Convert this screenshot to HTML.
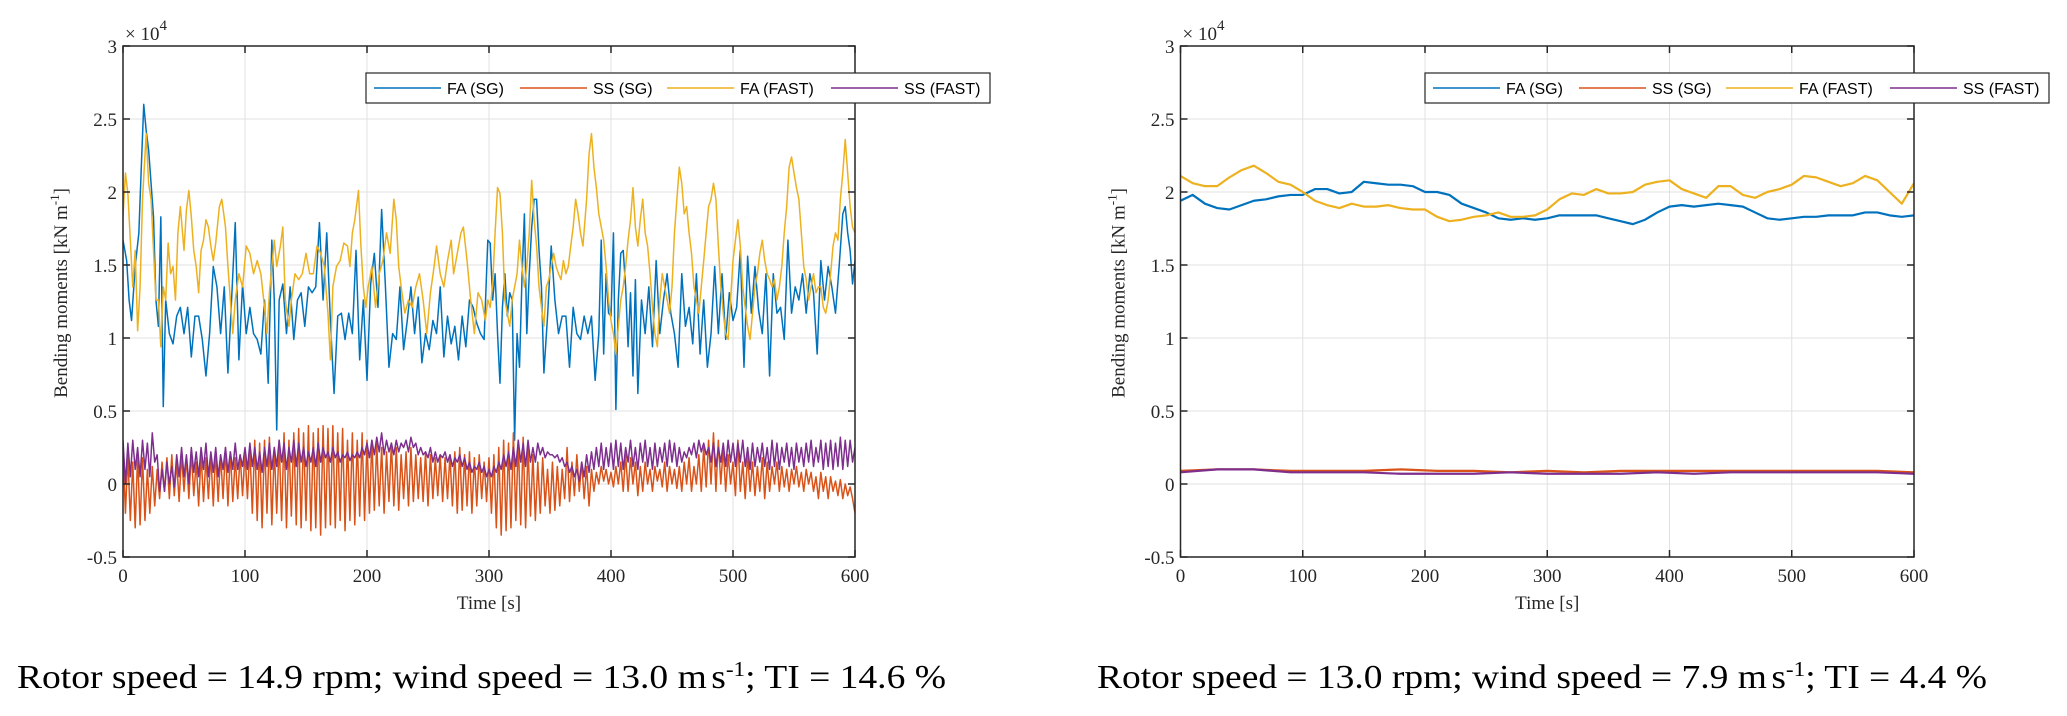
<!DOCTYPE html>
<html><head><meta charset="utf-8"><style>
html,body{margin:0;padding:0;background:#fff;}
svg{display:block;}
.tk{font-family:"Liberation Serif",serif;font-size:19px;fill:#262626;}
.lg{font-family:"Liberation Sans",sans-serif;font-size:16px;fill:#000;}
.cap{font-family:"Liberation Serif",serif;font-size:34px;fill:#000;}
</style></head><body>
<svg id="fig" width="2067" height="716" viewBox="0 0 2067 716" xmlns="http://www.w3.org/2000/svg">
<defs>
<clipPath id="clipL"><rect x="123" y="46" width="732" height="511"/></clipPath>
<clipPath id="clipR"><rect x="1180.5" y="46" width="733.5" height="511"/></clipPath>
</defs>
<text class="cap" x="17" y="688" textLength="929" lengthAdjust="spacingAndGlyphs">Rotor speed = 14.9 rpm; wind speed = 13.0 m<tspan dx="4">s</tspan><tspan dy="-12" font-size="21">-1</tspan><tspan dy="12">; TI = 14.6 %</tspan></text>
<text class="cap" x="1097" y="688" textLength="890" lengthAdjust="spacingAndGlyphs">Rotor speed = 13.0 rpm; wind speed = 7.9 m<tspan dx="4">s</tspan><tspan dy="-12" font-size="21">-1</tspan><tspan dy="12">; TI = 4.4 %</tspan></text>
</svg>
<script>
const xTicks=[0,100,200,300,400,500,600];
const yTicks=[-0.5,0,0.5,1,1.5,2,2.5,3];
const yTickLabels=["-0.5","0","0.5","1","1.5","2","2.5","3"];
const seriesNames=["FA (SG)","SS (SG)","FA (FAST)","SS (FAST)"];
const seriesColors=["#0072BD","#D95319","#EDB120","#7E2F8E"];

const leftFaSg=[[0,1.67],[3,1.53],[5,1.26],[7,1.12],[10,1.49],[13,1.72],[15,2.17],[17,2.6],[19,2.42],[21,2.29],[23,2.06],[25,1.83],[27,1.26],[29,1.08],[31,1.83],[33,0.53],[35,1.26],[38,1.03],[41,0.96],[44,1.15],[47,1.21],[50,1.03],[53,1.21],[56,0.87],[59,1.15],[62,1.15],[65,0.99],[68,0.74],[71,1.03],[74,1.49],[77,1.35],[80,1.03],[83,1.35],[86,0.76],[89,1.26],[92,1.79],[95,0.85],[98,1.37],[101,1.03],[104,1.21],[107,1.03],[110,0.99],[113,0.89],[116,1.26],[119,0.69],[122,1.67],[124,1.26],[126,0.37],[128,1.26],[131,1.37],[134,1.03],[137,1.35],[140,0.99],[143,1.26],[146,1.31],[149,1.08],[152,1.35],[155,1.31],[158,1.35],[161,1.79],[164,1.26],[167,1.72],[170,1.12],[173,0.62],[176,1.15],[179,1.17],[182,0.99],[185,1.17],[188,1.03],[191,1.6],[194,0.85],[197,1.26],[200,0.71],[203,1.37],[206,1.58],[209,1.21],[212,1.88],[215,1.37],[218,0.8],[221,1.03],[224,0.99],[227,1.35],[230,0.92],[233,1.12],[236,1.35],[239,1.03],[242,1.28],[245,0.83],[248,1.03],[251,0.92],[254,1.12],[257,1.03],[260,1.35],[263,0.87],[266,1.15],[269,0.96],[272,1.08],[275,0.85],[278,1.15],[281,0.94],[284,1.26],[287,1.21],[290,1.1],[293,1.03],[296,0.99],[299,1.67],[301,1.65],[303,1.26],[305,1.44],[307,1.03],[309,0.69],[311,1.21],[313,1.44],[315,1.15],[317,1.31],[319,1.26],[321,0.3],[323,1.03],[325,0.8],[327,1.4],[329,1.85],[331,1.03],[333,1.44],[335,1.76],[337,1.95],[339,1.95],[341,1.6],[343,1.35],[345,0.76],[348,1.15],[351,1.63],[354,1.26],[357,1.03],[360,1.15],[363,1.15],[366,0.8],[369,1.21],[372,1.03],[375,0.99],[378,1.15],[381,1.03],[384,1.15],[387,0.71],[390,1.03],[392,1.67],[394,0.89],[396,1.44],[398,1.17],[400,1.15],[402,1.72],[404,0.51],[406,1.26],[408,1.58],[410,1.6],[412,1.35],[414,0.94],[416,1.31],[418,0.74],[420,1.4],[422,0.62],[425,1.26],[428,1.03],[431,1.35],[434,0.94],[437,1.53],[440,1.03],[443,1.26],[446,1.44],[449,1.17],[452,1.03],[455,0.8],[458,1.44],[461,1.08],[464,1.21],[467,0.96],[470,1.44],[473,0.89],[476,1.26],[479,0.8],[482,1.03],[485,1.49],[488,1.03],[491,1.44],[494,0.99],[497,1.31],[500,1.12],[503,1.21],[506,1.6],[509,0.8],[512,1.56],[515,1.17],[518,1.49],[521,1.19],[524,1.03],[527,1.44],[530,0.74],[533,1.44],[536,1.17],[539,1.21],[542,0.99],[545,1.67],[548,1.17],[551,1.35],[554,1.26],[557,1.44],[560,1.17],[563,1.44],[566,1.31],[569,0.89],[572,1.53],[575,1.26],[578,1.49],[581,1.35],[584,1.17],[587,1.49],[590,1.85],[592,1.9],[594,1.72],[596,1.6],[598,1.37],[600,1.53]];

const leftFaFast=[[0,1.83],[2,2.13],[4,1.99],[6,1.67],[8,1.35],[10,1.6],[12,1.05],[14,1.35],[16,1.95],[19,2.4],[21,2.06],[23,1.95],[25,1.6],[27,1.26],[29,1.26],[31,0.94],[33,1.35],[35,1.26],[37,1.65],[39,1.44],[41,1.49],[43,1.26],[45,1.72],[47,1.9],[50,1.6],[52,1.88],[54,2.01],[56,1.83],[58,1.6],[60,1.49],[62,1.31],[64,1.6],[66,1.67],[68,1.81],[70,1.76],[72,1.63],[74,1.53],[76,1.65],[79,1.9],[81,1.95],[84,1.76],[86,1.49],[88,1.26],[90,1.03],[92,1.26],[95,1.44],[98,1.35],[101,1.63],[104,1.58],[107,1.44],[110,1.53],[113,1.44],[116,1.21],[118,1.03],[120,1.31],[122,1.49],[124,1.67],[126,1.49],[129,1.63],[131,1.76],[133,1.26],[136,1.08],[138,1.26],[141,1.44],[144,1.4],[147,1.44],[150,1.58],[153,1.44],[156,1.44],[159,1.63],[162,1.58],[165,1.49],[168,1.17],[170,0.85],[172,1.35],[175,1.49],[178,1.53],[181,1.65],[184,1.63],[186,1.49],[188,1.72],[190,1.81],[193,2.01],[195,1.63],[197,1.35],[199,1.21],[201,1.35],[204,1.49],[207,1.21],[210,1.44],[213,1.53],[216,1.72],[219,1.58],[222,1.95],[224,1.81],[226,1.49],[228,1.35],[231,1.17],[234,1.26],[237,1.21],[240,1.35],[243,1.44],[246,1.26],[249,1.03],[252,1.31],[255,1.49],[257,1.63],[260,1.44],[263,1.35],[266,1.53],[269,1.67],[271,1.44],[274,1.58],[277,1.72],[279,1.76],[282,1.53],[285,1.26],[288,1.03],[291,1.31],[294,1.26],[297,1.12],[299,1.26],[301,1.21],[303,1.37],[305,1.72],[307,2.03],[309,1.99],[311,1.72],[313,1.26],[315,1.17],[317,1.08],[319,1.26],[321,1.35],[323,1.44],[325,1.67],[327,1.49],[329,1.35],[331,1.49],[333,1.72],[335,2.08],[337,1.81],[339,1.63],[341,1.35],[343,1.21],[345,1.08],[347,1.35],[349,1.4],[351,1.49],[353,1.58],[355,1.49],[357,1.44],[359,1.4],[361,1.53],[363,1.44],[365,1.49],[367,1.63],[369,1.76],[371,1.95],[373,1.85],[375,1.72],[377,1.63],[380,1.95],[382,2.26],[384,2.4],[386,2.17],[388,2.03],[390,1.85],[392,1.76],[394,1.67],[396,1.49],[398,1.26],[400,1.12],[402,1.03],[404,0.89],[406,1.08],[408,1.26],[410,1.35],[412,1.49],[414,1.67],[416,1.81],[418,2.03],[420,1.76],[422,1.63],[424,1.81],[426,1.95],[428,1.72],[430,1.63],[432,1.44],[434,1.21],[436,1.03],[438,0.94],[440,1.26],[442,1.44],[444,1.35],[446,1.26],[448,1.17],[450,1.35],[452,1.72],[454,1.95],[456,2.17],[458,2.06],[460,1.85],[462,1.9],[464,1.72],[466,1.58],[468,1.35],[470,1.26],[472,1.17],[474,1.35],[476,1.53],[478,1.72],[480,1.9],[482,1.95],[484,2.06],[486,1.95],[488,1.63],[490,1.35],[492,1.17],[494,1.03],[496,0.99],[498,1.26],[500,1.53],[502,1.67],[504,1.81],[506,1.63],[508,1.35],[510,1.21],[512,1.08],[514,0.99],[516,1.17],[518,1.35],[520,1.44],[522,1.58],[524,1.67],[526,1.53],[528,1.44],[530,1.4],[532,1.35],[534,1.4],[536,1.26],[538,1.35],[540,1.49],[542,1.72],[544,1.9],[546,2.17],[548,2.24],[550,2.13],[552,2.03],[554,1.95],[556,1.72],[558,1.49],[560,1.4],[562,1.26],[564,1.35],[566,1.44],[568,1.31],[570,1.35],[572,1.35],[574,1.21],[576,1.17],[578,1.26],[580,1.44],[582,1.63],[584,1.72],[586,1.67],[588,1.95],[590,2.13],[592,2.36],[594,2.13],[596,1.9],[598,1.76],[600,1.72]];

const ssStep=2;
const leftSsSg=[0.25,-0.2,0.2,-0.25,0.15,-0.3,0.2,-0.28,0.18,-0.25,0.1,-0.2,0.12,-0.15,0.1,-0.1,
0.15,-0.05,0.18,-0.1,0.2,-0.08,0.15,-0.12,0.2,-0.05,0.18,-0.1,0.22,-0.08,0.15,-0.15,0.2,-0.12,0.18,-0.1,0.2,-0.15,0.22,-0.12,0.2,-0.1,0.25,-0.15,0.22,-0.12,0.18,-0.1,0.2,-0.08,0.22,
-0.1,0.25,-0.2,0.3,-0.25,0.28,-0.3,0.3,-0.2,0.32,-0.28,0.25,-0.2,0.3,-0.25,0.35,-0.3,0.3,-0.22,0.35,-0.28,0.38,-0.3,0.35,-0.25,0.4,-0.32,0.35,-0.3,0.38,-0.35,0.4,-0.3,0.38,-0.28,0.4,-0.3,0.35,-0.25,0.38,-0.32,0.3,-0.25,0.35,-0.28,0.3,-0.22,0.35,-0.25,0.3,
-0.2,0.3,-0.18,0.28,-0.15,0.25,-0.2,0.22,-0.12,0.28,-0.15,0.25,-0.18,0.2,-0.1,0.22,-0.15,0.25,-0.12,0.2,-0.1,0.18,-0.12,0.22,-0.15,0.2,-0.1,0.18,-0.08,0.2,-0.12,0.18,-0.1,0.2,-0.15,0.22,-0.2,0.25,-0.18,0.2,-0.15,0.22,-0.2,0.18,-0.15,0.2,-0.1,0.15,-0.12,0.18,
-0.2,0.2,-0.3,0.25,-0.35,0.3,-0.32,0.28,-0.3,0.35,-0.25,0.3,-0.28,0.32,-0.3,0.25,-0.22,0.2,-0.25,0.15,-0.2,0.18,-0.15,0.1,-0.2,0.15,-0.18,0.12,-0.15,0.1,-0.1,0.25,-0.12,0.15,-0.08,0.2,-0.05,0.15,-0.1,0.12,-0.15,0.1,-0.05,0.08,0.0,0.12,0.02,0.1,0.0,0.08,
-0.02,0.12,0.0,0.15,-0.05,0.2,-0.05,0.18,0.0,0.15,-0.08,0.12,-0.05,0.15,0.0,0.1,-0.05,0.12,0.02,0.1,-0.02,0.15,-0.05,0.12,0.0,0.1,-0.03,0.12,-0.05,0.15,0.0,0.18,-0.05,0.12,0.0,0.2,-0.05,0.25,-0.02,0.3,0.0,0.35,-0.05,0.3,0.0,0.25,-0.05,0.2,0.0,0.15,
-0.08,0.3,-0.05,0.15,-0.1,0.2,-0.05,0.15,-0.08,0.12,-0.05,0.18,-0.1,0.15,-0.05,0.12,0.0,0.15,-0.05,0.12,-0.02,0.1,-0.05,0.1,0.0,0.12,-0.02,0.08,-0.05,0.1,0.0,0.08,-0.05,0.05,-0.1,0.08,-0.05,0.05,-0.1,0.05,-0.05,0.02,-0.08,0.03,-0.1,0.0,-0.08,-0.02,-0.1,-0.2];

const leftSsFast=[0.3,0.0,0.28,0.05,0.3,0.1,0.25,0.05,0.3,0.1,0.28,0.05,0.35,0.15,0.2,-0.05,
0.1,-0.05,0.15,0.0,0.12,-0.02,0.2,0.05,0.25,0.05,0.2,0.0,0.25,0.08,0.22,0.05,0.25,0.1,0.28,0.05,0.22,0.08,0.25,0.05,0.2,0.1,0.25,0.08,0.22,0.1,0.28,0.1,0.2,0.12,0.25,
0.1,0.28,0.12,0.25,0.1,0.22,0.08,0.25,0.12,0.28,0.1,0.25,0.12,0.3,0.15,0.28,0.1,0.25,0.15,0.3,0.12,0.28,0.15,0.25,0.12,0.22,0.15,0.25,0.12,0.28,0.15,0.25,0.18,0.22,0.15,0.25,0.18,0.22,0.15,0.2,0.18,0.22,0.16,0.2,0.18,0.22,0.18,0.25,0.2,0.28,
0.18,0.3,0.2,0.32,0.22,0.35,0.2,0.3,0.22,0.28,0.2,0.3,0.22,0.28,0.25,0.3,0.22,0.32,0.25,0.28,0.2,0.25,0.2,0.22,0.18,0.25,0.15,0.22,0.15,0.2,0.18,0.22,0.15,0.2,0.12,0.18,0.15,0.2,0.12,0.18,0.1,0.15,0.08,0.12,0.1,0.15,0.08,0.12,0.05,0.1,
0.05,0.12,0.08,0.15,0.1,0.2,0.12,0.22,0.1,0.25,0.12,0.3,0.15,0.28,0.12,0.3,0.15,0.25,0.15,0.28,0.2,0.25,0.18,0.22,0.2,0.2,0.18,0.2,0.15,0.18,0.12,0.15,0.08,0.12,0.05,0.1,0.02,0.15,0.05,0.2,0.08,0.22,0.1,0.25,0.12,0.28,0.1,0.25,0.12,0.28,
0.1,0.3,0.12,0.28,0.1,0.25,0.15,0.3,0.12,0.25,0.1,0.28,0.15,0.3,0.12,0.25,0.1,0.28,0.12,0.25,0.15,0.28,0.12,0.3,0.15,0.28,0.12,0.25,0.15,0.22,0.18,0.25,0.2,0.28,0.18,0.3,0.22,0.28,0.2,0.25,0.15,0.28,0.12,0.25,0.15,0.28,0.12,0.3,0.15,0.28,
0.12,0.28,0.15,0.3,0.12,0.25,0.1,0.28,0.12,0.25,0.15,0.28,0.12,0.25,0.1,0.3,0.12,0.28,0.1,0.25,0.15,0.28,0.12,0.25,0.1,0.28,0.15,0.25,0.12,0.28,0.15,0.3,0.12,0.25,0.15,0.3,0.1,0.28,0.12,0.3,0.1,0.28,0.12,0.32,0.1,0.3,0.12,0.3,0.15,0.25];

const rightTime=[0,10,20,30,40,50,60,70,80,90,100,110,120,130,140,150,160,170,180,190,200,210,220,230,240,250,260,270,280,290,300,310,320,330,340,350,360,370,380,390,400,410,420,430,440,450,460,470,480,490,500,510,520,530,540,550,560,570,580,590,600];
const rightFaSg=[1.94,1.98,1.92,1.89,1.88,1.91,1.94,1.95,1.97,1.98,1.98,2.02,2.02,1.99,2.0,2.07,2.06,2.05,2.05,2.04,2.0,2.0,1.98,1.92,1.89,1.86,1.82,1.81,1.82,1.81,1.82,1.84,1.84,1.84,1.84,1.82,1.8,1.78,1.81,1.86,1.9,1.91,1.9,1.91,1.92,1.91,1.9,1.86,1.82,1.81,1.82,1.83,1.83,1.84,1.84,1.84,1.86,1.86,1.84,1.83,1.84];
const rightFaFast=[2.11,2.06,2.04,2.04,2.1,2.15,2.18,2.13,2.07,2.05,2.0,1.94,1.91,1.89,1.92,1.9,1.9,1.91,1.89,1.88,1.88,1.83,1.8,1.81,1.83,1.84,1.86,1.83,1.83,1.84,1.88,1.95,1.99,1.98,2.02,1.99,1.99,2.0,2.05,2.07,2.08,2.02,1.99,1.96,2.04,2.04,1.98,1.96,2.0,2.02,2.05,2.11,2.1,2.07,2.04,2.06,2.11,2.08,2.0,1.92,2.06];
const rightSsTime=[0,30,60,90,120,150,180,210,240,270,300,330,360,390,420,450,480,510,540,570,600];
const rightSsSg=[0.09,0.1,0.1,0.09,0.09,0.09,0.1,0.09,0.09,0.08,0.09,0.08,0.09,0.09,0.09,0.09,0.09,0.09,0.09,0.09,0.08];
const rightSsFast=[0.08,0.1,0.1,0.08,0.08,0.08,0.07,0.07,0.07,0.08,0.07,0.07,0.07,0.08,0.07,0.08,0.08,0.08,0.08,0.08,0.07];

const NS="http://www.w3.org/2000/svg";
const fig=document.getElementById('fig');
function el(tag,attrs,parent){const e=document.createElementNS(NS,tag);for(const k in attrs)e.setAttribute(k,attrs[k]);(parent||fig).appendChild(e);return e;}

function buildPlot(side,x0,x1,clip,series,legendX){
  const y0=46,y1=557;
  const xs=t=>x0+(t-0)/(600)*(x1-x0);
  const ys=v=>y1-(v+0.5)/3.5*(y1-y0);
  const g=el('g',{});
  
  
  xTicks.slice(1,-1).forEach(t=>{const l=el('line',{x1:xs(t),x2:xs(t),y1:y0,y2:y1,stroke:'#e0e0e0','stroke-width':1},g);
    });
  yTicks.slice(1,-1).forEach(v=>{const l=el('line',{x1:x0,x2:x1,y1:ys(v),y2:ys(v),stroke:'#e0e0e0','stroke-width':1},g);
    });
  const sg=el('g',{'clip-path':'url(#'+clip+')'},g);
  series.forEach((s,i)=>{
    const d=s.pts.map((p,j)=>(j?'L':'M')+xs(p[0]).toFixed(2)+','+ys(p[1]).toFixed(2)).join('');
    const p=el('path',{d:d,fill:'none',stroke:seriesColors[i],'stroke-width':s.w,'stroke-linejoin':'round'},sg);
    
    
  });
  const box=el('rect',{x:x0,y:y0,width:x1-x0,height:y1-y0,fill:'none',stroke:'#262626','stroke-width':1.5},g);
  
  xTicks.forEach(t=>{
    el('line',{x1:xs(t),x2:xs(t),y1:y1,y2:y1-7,stroke:'#262626','stroke-width':1.5},g);
    el('line',{x1:xs(t),x2:xs(t),y1:y0,y2:y0+7,stroke:'#262626','stroke-width':1.5},g);
    const tx=el('text',{x:xs(t),y:y1+25,'text-anchor':'middle',class:'tk'},g);tx.textContent=String(t);
    
  });
  yTicks.forEach((v,i)=>{
    el('line',{x1:x0,x2:x0+7,y1:ys(v),y2:ys(v),stroke:'#262626','stroke-width':1.5},g);
    el('line',{x1:x1,x2:x1-7,y1:ys(v),y2:ys(v),stroke:'#262626','stroke-width':1.5},g);
    const tx=el('text',{x:x0-6,y:ys(v)+7,'text-anchor':'end',class:'tk'},g);tx.textContent=yTickLabels[i];
    
  });
  const ex=el('text',{x:x0+2,y:40,class:'tk','font-size':'21'},g);
  
  ex.innerHTML='× 10<tspan dy="-10" font-size="15">4</tspan>';
  const xl=el('text',{x:(x0+x1)/2,y:609,'text-anchor':'middle',class:'tk'},g);xl.textContent='Time [s]';
  
  const cx=x0-56,cy=293;
  const yl=el('text',{x:cx,y:cy,'text-anchor':'middle',class:'tk','font-size':'20',transform:'rotate(-90 '+cx+' '+cy+')'},g);
  
  yl.innerHTML='Bending moments [kN m<tspan dy="-8" font-size="13">-1</tspan><tspan dy="8">]</tspan>';
  const lg=el('g',{},g);
  
  el('rect',{x:legendX,y:73,width:624,height:30,fill:'#fff',stroke:'#262626','stroke-width':1.2},lg);
  const offs=[8,154,301,465];
  seriesNames.forEach((n,i)=>{
    const e=el('g',{},lg);
    
    el('line',{x1:legendX+offs[i],x2:legendX+offs[i]+67,y1:88,y2:88,stroke:seriesColors[i],'stroke-width':1.5},e);
    const t=el('text',{x:legendX+offs[i]+73,y:94,class:'lg'},e);t.textContent=n;
  });
}
function pairs(tArr,vArr){return tArr.map((t,i)=>[t,vArr[i]]);}
function stepPairs(vArr){return vArr.map((v,i)=>[i*ssStep,v]);}
buildPlot('left',123,855,'clipL',[
  {pts:leftFaSg,w:1.5},{pts:stepPairs(leftSsSg),w:1.5},{pts:leftFaFast,w:1.5},{pts:stepPairs(leftSsFast),w:1.5}],366);
buildPlot('right',1180.5,1914,'clipR',[
  {pts:pairs(rightTime,rightFaSg),w:2.2},{pts:pairs(rightSsTime,rightSsSg),w:2.2},{pts:pairs(rightTime,rightFaFast),w:2.2},{pts:pairs(rightSsTime,rightSsFast),w:2.2}],1425);
</script>
</body></html>
